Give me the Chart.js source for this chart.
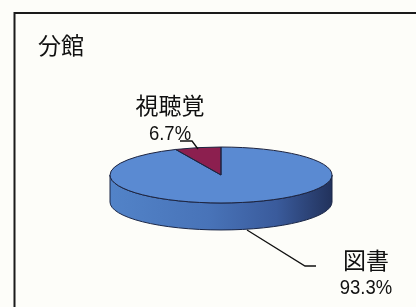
<!DOCTYPE html>
<html><head><meta charset="utf-8">
<script src="https://cdn.jsdelivr.net/npm/chart.js@4"></script>
<style>html,body{margin:0;padding:0;background:#fdfdf9;}#wrap{width:416px;height:307px;position:relative;overflow:hidden}</style>
</head><body><div id="wrap"><canvas id="c" width="416" height="307"></canvas></div>
<script>
const chartTitle = '分館';
const categories = ['図書', '視聴覚'];
const values = [93.3, 6.7];

const TOP_COLORS = ['#5a8ad2', '#8c1f4f'];
const WALL_STOPS = [
  [[0,'#5283c8'],[0.45,'#4873b8'],[0.75,'#3a5b9c'],[1,'#22325c']],
  [[0,'#7a1a44'],[1,'#4a0f28']]
];
const CY = 175, TILT = 0.252, DEPTH = 27;
const LABELS = [
  {x:366, y:260, py:288, line:[[247,230],[305,266],[316,266]]},
  {x:170, y:105, py:134, line:[[180,141],[192,141],[198,149]]}
];

function visibleSegs(s, e){
  const segs=[];
  for (let n=-1;n<=1;n++){
    const a=Math.max(s, n*2*Math.PI), b=Math.min(e, n*2*Math.PI+Math.PI);
    if (b>a) segs.push([a,b]);
  }
  return segs;
}

const pie3d = {
  id:'pie3d',
  beforeDraw(chart){
    const ctx=chart.ctx; ctx.save(); ctx.fillStyle='#fdfdf9'; ctx.fillRect(0,0,chart.width,chart.height); ctx.restore();
  },
  beforeDatasetsDraw(chart){
    const ctx=chart.ctx;
    const meta=chart.getDatasetMeta(0);
    const a0=meta.data[0];
    const x=a0.x, r=a0.outerRadius, ry=r*TILT;
    ctx.save();
    meta.data.forEach((arc,i)=>{
      visibleSegs(arc.startAngle, arc.endAngle).forEach(([a,b])=>{
        ctx.beginPath();
        ctx.ellipse(x, CY, r, ry, 0, a, b, false);
        ctx.ellipse(x, CY+DEPTH, r, ry, 0, b, a, true);
        ctx.closePath();
        const g=ctx.createLinearGradient(x-r,0,x+r,0);
        WALL_STOPS[i].forEach(([o,c])=>g.addColorStop(o,c));
        ctx.fillStyle=g; ctx.fill();
        ctx.lineWidth=1; ctx.strokeStyle='#1b2747'; ctx.stroke();
      });
    });
    ctx.restore();
    ctx.save();
    ctx.translate(x, CY); ctx.scale(1, TILT); ctx.translate(-x, -a0.y);
  },
  afterDatasetsDraw(chart){
    const ctx=chart.ctx;
    ctx.restore();
    const meta=chart.getDatasetMeta(0);
    const a0=meta.data[0];
    const x=a0.x, r=a0.outerRadius, ry=r*TILT;
    ctx.save();
    ctx.lineWidth=1; ctx.strokeStyle='#1d2440';
    meta.data.forEach((arc)=>{
      ctx.beginPath();
      ctx.moveTo(x, CY);
      ctx.ellipse(x, CY, r, ry, 0, arc.startAngle, arc.endAngle, false);
      ctx.closePath();
      ctx.stroke();
    });
    // labels
    ctx.fillStyle='#111'; ctx.textAlign='center'; ctx.textBaseline='middle';
    categories.forEach((c,i)=>{
      const L=LABELS[i];
      ctx.font='23px "Noto Sans CJK JP"';
      ctx.fillText(c, L.x, L.y);
      ctx.save();
      ctx.translate(L.x, L.py); ctx.scale(0.88, 1);
      ctx.font='21px "Liberation Sans"';
      ctx.fillText(values[i].toFixed(1)+'%', 0, 0);
      ctx.restore();
      ctx.beginPath();
      ctx.moveTo(L.line[0][0], L.line[0][1]);
      for (let k=1;k<L.line.length;k++) ctx.lineTo(L.line[k][0], L.line[k][1]);
      ctx.strokeStyle='#111'; ctx.lineWidth=1.3; ctx.stroke();
    });
    ctx.restore();
  },
  afterDraw(chart){
    const ctx=chart.ctx; ctx.save();
    ctx.strokeStyle='#1a1a1a'; ctx.lineWidth=2;
    ctx.strokeRect(14.5, 13, 700, 700);
    ctx.restore();
  }
};

new Chart(document.getElementById('c'), {
  type:'pie',
  data:{ labels:categories, datasets:[{ data:values, backgroundColor:TOP_COLORS, borderWidth:0, clip:false, hoverOffset:0 }] },
  options:{
    responsive:false, animation:false, events:[], devicePixelRatio:1,
    radius:111,
    layout:{ padding:{ left:38, right:12, top:0, bottom:0 } },
    plugins:{
      legend:{display:false}, tooltip:{enabled:false},
      title:{ display:true, text:chartTitle, align:'start', color:'#111',
        font:{ size:23, family:'"Noto Sans CJK JP"', weight:'normal' }, padding:{top:31, bottom:4} }
    }
  },
  plugins:[pie3d]
});
</script></body></html>
